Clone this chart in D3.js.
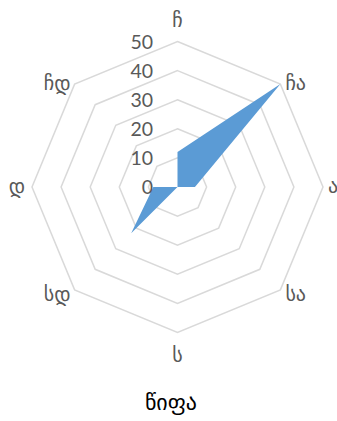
<!DOCTYPE html>
<html>
<head>
<meta charset="utf-8">
<script src="https://cdn.jsdelivr.net/npm/d3@7"></script>
<style>
  body { margin: 0; background: #fff; }
  text { font-family: Lato, "DejaVu Sans", sans-serif; }
</style>
</head>
<body>
<div id="wrapper"></div>
<script>
const directions = ["ჩ", "ჩა", "ა", "სა", "ს", "სდ", "დ", "ჩდ"]
const values = [12, 50, 6, 0, 0, 22.5, 8.3, 0]
const tickValues = [0, 10, 20, 30, 40, 50]
const title = "წიფა"

function radarChart() {
  // dimensions
  let dimensions = {
    width: 337,
    height: 421,
    cx: 177.5,
    cy: 187,
    radius: 145.5,
  }

  const wrapper = d3.select("#wrapper")
    .append("svg")
    .attr("width", dimensions.width)
    .attr("height", dimensions.height)
  const bounds = wrapper.append("g")
    .attr("transform", `translate(${dimensions.cx},${dimensions.cy})`)

  // scales
  const rScale = d3.scaleLinear()
    .domain([0, 50])
    .range([0, dimensions.radius])
  const angleScale = d3.scaleLinear()
    .domain([0, directions.length])
    .range([0, 2 * Math.PI])

  const radial = d3.lineRadial()
    .angle((d, i) => angleScale(i))
    .radius(d => rScale(d))
    .curve(d3.curveLinearClosed)

  // grid rings
  bounds.selectAll(".ring")
    .data(tickValues.filter(d => d > 0))
    .join("path")
    .attr("class", "ring")
    .attr("d", t => radial(directions.map(() => t)))
    .attr("fill", "none")
    .attr("stroke", "#d9d9d9")
    .attr("stroke-width", 1.5)

  // data polygon
  bounds.append("path")
    .attr("d", radial(values))
    .attr("fill", "#5b9bd5")
    .attr("stroke", "none")

  // tick labels
  bounds.selectAll(".tick")
    .data(tickValues)
    .join("text")
    .attr("class", "tick")
    .attr("x", -24.5)
    .attr("y", d => -rScale(d))
    .attr("dy", "0.36em")
    .attr("text-anchor", "end")
    .attr("fill", "#595959")
    .style("font-size", "19.5px")
    .text(d => d)

  // category labels, placed just outside the outer ring corners
  const outer = rScale(50)
  const vx = i => outer * Math.sin(angleScale(i))
  const vy = i => -outer * Math.cos(angleScale(i))
  bounds.selectAll(".cat")
    .data(directions)
    .join("text")
    .attr("class", "cat")
    .attr("x", (d, i) => {
      const s = Math.sin(angleScale(i))
      if (s > 0.1) return vx(i) + 5
      if (s < -0.1) return vx(i) - (s < -0.9 ? 7 : 4)
      return vx(i)
    })
    .attr("y", (d, i) => {
      const c = Math.cos(angleScale(i))
      if (c > 0.9) return vy(i) - 15
      if (c < -0.9) return vy(i) + 29
      if (c < -0.1) return vy(i) + 11
      return vy(i) + 6
    })
    .attr("text-anchor", (d, i) => {
      const s = Math.sin(angleScale(i))
      return s > 0.1 ? "start" : s < -0.1 ? "end" : "middle"
    })
    .attr("fill", "#595959")
    .style("font-size", "20px")
    .text(d => d)

  // title
  wrapper.append("text")
    .attr("x", 171)
    .attr("y", 410)
    .attr("text-anchor", "middle")
    .attr("fill", "#000")
    .style("font-size", "22px")
    .text(title)
}
radarChart()
</script>
</body>
</html>
